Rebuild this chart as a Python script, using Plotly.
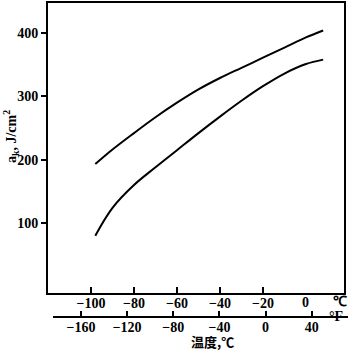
import plotly.graph_objects as go

# Data (temperature in °C, impact toughness a_k in J/cm^2)
temp_c = [-98, -90, -80, -70, -60, -50, -40, -30, -20, -10, 0, 8]
upper_ak = [193, 216, 242, 267, 290, 311, 329, 345, 361, 377, 393, 404]
lower_ak = [80, 124, 160, 188, 215, 242, 268, 293, 316, 336, 351, 358]

y_ticks = [100, 200, 300, 400]
c_ticks = [-100, -80, -60, -40, -20]
c_unticked = [0]
f_ticks = [-160, -120, -80, -40, 0, 40]

W, H = 348, 351
L, R, T, B = 48, 4, 3, 34
paper_h = H - T - B
frame_bottom = 293
y_dom0 = (H - B - frame_bottom) / paper_h

def px_x(px):
    return (px - L) / (W - L - R)

def px_y(py):
    return (H - B - py) / paper_h

serif = "Liberation Serif"
tf = dict(family=serif, size=14, color="black", weight="bold")
fig = go.Figure()
for ys in (upper_ak, lower_ak):
    fig.add_trace(go.Scatter(x=temp_c, y=ys, mode="lines",
                             line=dict(color="black", width=2, shape="spline", smoothing=1.0),
                             showlegend=False, hoverinfo="skip"))

# invisible trace on the °F axis
fig.add_trace(go.Scatter(x=[-100], y=[None], xaxis="x2", yaxis="y", showlegend=False,
                         mode="markers", hoverinfo="skip"))

def ann(text, px, py, font, **kw):
    return dict(text=text, x=px_x(px), y=px_y(py), xref="paper", yref="paper",
                xanchor="center", yanchor="middle", showarrow=False, font=font, **kw)

annotations = [
    ann("℃", 340, 301, tf),
    ann("°F", 336, 316, tf),
    ann("温度,℃", 212, 341, dict(family="Noto Sans CJK SC", size=13, color="black", weight="bold")),
    ann("a<sub>k</sub>, J/cm<sup>2</sup>", 11, 137, tf, textangle=-90),
]
for v in c_unticked:
    annotations.append(dict(text=str(v), x=v, xref="x", y=px_y(302), yref="paper",
                            xanchor="center", yanchor="middle", showarrow=False, font=tf))

fig.update_layout(
    width=W, height=H,
    margin=dict(l=L, r=R, t=T, b=B, autoexpand=False),
    paper_bgcolor="white", plot_bgcolor="white",
    font=dict(family=serif, size=14, color="black"),
    xaxis=dict(range=[-120, 17.7], tickvals=c_ticks, ticktext=["−100", "−80", "−60", "−40", "−20"],
               ticks="inside", ticklen=6, tickwidth=1.5, tickcolor="black",
               showline=True, linecolor="black", linewidth=2, mirror=True,
               showgrid=False, zeroline=False, anchor="y", automargin=False,
               ticklabelstandoff=-4, tickfont=tf),
    yaxis=dict(range=[-10.5, 447.4], domain=[y_dom0, 1], tickvals=y_ticks,
               ticks="outside", ticklen=5, tickwidth=1.5, tickcolor="black",
               showline=True, linecolor="black", linewidth=2, mirror=True,
               showgrid=False, zeroline=False, automargin=False,
               tickfont=tf),
    xaxis2=dict(range=[-188.6, 68], overlaying="x", anchor="free", position=0, side="bottom",
                tickvals=f_ticks, ticktext=["−160", "−120", "−80", "−40", "0", "40"],
                ticks="inside", ticklen=6, tickwidth=1.5, tickcolor="black",
                showline=False, showgrid=False, zeroline=False, automargin=False,
                ticklabelstandoff=0, tickfont=tf),
    shapes=[dict(type="line", xref="paper", yref="paper",
                 x0=px_x(53), x1=px_x(348), y0=0, y1=0,
                 line=dict(color="black", width=2))],
    annotations=annotations,
)

fig.write_html("out.html", config={"displayModeBar": False},
               post_script="document.body.style.margin='0';document.body.style.overflow='hidden';")
